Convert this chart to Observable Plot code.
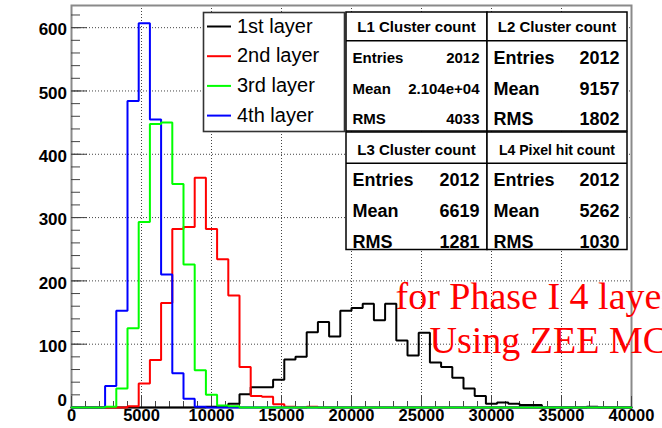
<!DOCTYPE html>
<html><head><meta charset="utf-8">
<script src="https://cdn.jsdelivr.net/npm/d3@7"></script>
<script src="https://cdn.jsdelivr.net/npm/@observablehq/plot@0.6"></script>
<style>
html,body{margin:0;padding:0;background:#fff;overflow:hidden;}
#chart svg{display:block;}
</style></head><body><div id="chart"></div>
<script>
// ---- data: 50 bins of width 800 from 0 to 40000 ----
const binWidth = 800;
const xMin = 0;
const layer1Counts = [0,0,0,0,0,0,0,0,0,0, 0,0,1,2,6,21,32,32,44,76, 80,119,135,112,153,157,164,138,164,106, 82,118,71,64,47,30,18,6,8,6, 4,4,0,0,0,0,1,0,0,0];
const layer2Counts = [0,0,0,0,0,2,38,75,165,282, 285,363,282,234,177,64,18,17,5,1, 0,1,0,0,0,0,0,0,0,0, 0,0,0,0,0,0,0,0,0,0, 0,0,0,0,0,0,0,0,0,0];
const layer3Counts = [0,0,0,1,30,125,293,448,450,353, 226,59,20,3,2,0,0,0,0,0, 0,0,0,0,0,0,0,0,0,0, 0,0,0,0,0,0,0,0,0,0, 0,0,0,0,0,0,0,0,0,0];
const layer4Counts = [0,0,0,34,153,484,607,455,210,54, 14,1,0,0,0,0,0,0,0,0, 0,0,0,0,0,0,0,0,0,0, 0,0,0,0,0,0,0,0,0,0, 0,0,0,0,0,0,0,0,0,0];

const seriesNames = ["1st layer", "2nd layer", "3rd layer", "4th layer"];
const seriesColors = ["#000000", "#ff0000", "#00ff00", "#0000ff"];

const statsTitles = ["L1 Cluster count", "L2 Cluster count", "L3 Cluster count", "L4 Pixel hit count"];
const statsEntries = ["2012", "2012", "2012", "2012"];
const statsMean = ["2.104e+04", "9157", "6619", "5262"];
const statsRMS = ["4033", "1802", "1281", "1030"];
const statsRowLabels = ["Entries", "Mean", "RMS"];

const xTickLabels = [0, 5000, 10000, 15000, 20000, 25000, 30000, 35000, 40000];
const yTickLabels = [0, 100, 200, 300, 400, 500, 600];
const annotationLines = ["for Phase I 4 layer", "Using ZEE MC"];

// ---- layout ----
const W = 662, H = 428, mL = 71, mR = 31, mT = 5, mB = 21;
const frameW = W - mL - mR, frameH = H - mT - mB;
const xMinor = d3.range(0, 40001, 1000);
const yMinor = d3.range(0, 636, 20);

function toSteps(counts) {
  const pts = counts.map((c, i) => ({x: xMin + i * binWidth, y: c}));
  pts.push({x: xMin + counts.length * binWidth, y: counts[counts.length - 1]});
  return pts;
}
const allCounts = [layer1Counts, layer2Counts, layer3Counts, layer4Counts];
const drawOrder = [0, 1, 3, 2];

const plot = Plot.plot({
  width: W, height: H,
  marginLeft: mL, marginRight: mR, marginTop: mT, marginBottom: mB,
  x: {domain: [0, 40000], axis: null},
  y: {domain: [0, 635], axis: null},
  style: {fontFamily: "'Liberation Sans', Arial, sans-serif", background: "white"},
  marks: [
    Plot.ruleX(xTickLabels.filter(v => v > 0 && v < 40000), {x: d => d, stroke: "#444", strokeDasharray: "1,2"}),
    Plot.ruleY(yTickLabels.filter(v => v > 0), {y: d => d, stroke: "#444", strokeDasharray: "1,2"}),
    Plot.frame({stroke: "#8a8a8a", strokeWidth: 2}),
    Plot.tickX(xMinor, {x: d => d, insetTop: frameH - 6, stroke: "#444"}),
    Plot.tickX(xTickLabels, {x: d => d, insetTop: frameH - 11, stroke: "#444"}),
    Plot.tickY(yMinor, {y: d => d, insetRight: frameW - 9, stroke: "#444"}),
    Plot.tickY(yTickLabels, {y: d => d, insetRight: frameW - 16, stroke: "#444"}),
    ...drawOrder.map(k => Plot.line(toSteps(allCounts[k]), {x: "x", y: "y", curve: "step-after", stroke: seriesColors[k], strokeWidth: 2, strokeLinejoin: "miter"})),
    Plot.text(yTickLabels.filter(v => v !== 0), {y: d => d, text: d => String(d), frameAnchor: "left", textAnchor: "end", dx: -4.5, dy: 2.2, fontSize: 17, fontWeight: "bold"}),
    Plot.text(yTickLabels.filter(v => v === 0), {y: d => d, text: d => String(d), frameAnchor: "left", textAnchor: "end", dx: -4.5, dy: -7.4, fontSize: 17, fontWeight: "bold"}),
    Plot.text(xTickLabels, {x: d => d, text: d => String(d), frameAnchor: "bottom", dy: 13.7, fontSize: 16.5, fontWeight: "bold"}),
    Plot.text([annotationLines[0]], {text: d => d, frameAnchor: "top-left", textAnchor: "start", dx: 324, dy: 277, fontSize: 38, fill: "#ff0000", fontFamily: "'Liberation Serif', 'Times New Roman', serif"}),
    Plot.text([annotationLines[1]], {text: d => d, frameAnchor: "top-left", textAnchor: "start", dx: 358, dy: 321, fontSize: 38, fill: "#ff0000", fontFamily: "'Liberation Serif', 'Times New Roman', serif"})
  ]
});
document.getElementById("chart").appendChild(plot);

const svg = d3.select(plot);
// ---- legend ----
const lg = svg.append("g").attr("font-family", "'Liberation Sans', Arial, sans-serif").attr("text-anchor", "start");
lg.append("rect").attr("x", 203.5).attr("y", 12.5).attr("width", 141).attr("height", 119)
  .attr("fill", "white").attr("stroke", "#333").attr("stroke-width", 1.6);
seriesNames.forEach((name, i) => {
  const cy = 26.5 + i * 29.7;
  lg.append("line").attr("x1", 207).attr("x2", 231).attr("y1", cy).attr("y2", cy)
    .attr("stroke", seriesColors[i]).attr("stroke-width", 2);
  lg.append("text").attr("x", 237).attr("y", cy + 6).attr("font-size", 20).attr("fill", "black")
    .attr("text-anchor", "start").text(name);
});

// ---- stats boxes ----
const boxes = [
  {x0: 346, x1: 487, y0: 12, y1: 131, hy: 40.7, tc: 26.2, rows: [57.2, 88.5, 118.3], ts: 15, rs: 15},
  {x0: 487, x1: 627, y0: 12, y1: 131, hy: 40.7, tc: 26.2, rows: [57.2, 88.5, 118.3], ts: 15, rs: 18},
  {x0: 346, x1: 487, y0: 132, y1: 249.5, hy: 163.3, tc: 150, rows: [180, 210.7, 241.3], ts: 15, rs: 18},
  {x0: 487, x1: 627, y0: 132, y1: 249.5, hy: 163.3, tc: 150, rows: [180, 210.7, 241.3], ts: 14, rs: 18}
];
const sg = svg.append("g").attr("font-family", "'Liberation Sans', Arial, sans-serif").attr("font-weight", "bold").attr("fill", "black");
boxes.forEach((b, i) => {
  sg.append("rect").attr("x", b.x0).attr("y", b.y0).attr("width", b.x1 - b.x0).attr("height", b.y1 - b.y0)
    .attr("fill", "white").attr("stroke", "black").attr("stroke-width", 1.5);
  sg.append("line").attr("x1", b.x0).attr("x2", b.x1).attr("y1", b.hy).attr("y2", b.hy)
    .attr("stroke", "black").attr("stroke-width", 1.5);
  sg.append("text").attr("x", (b.x0 + b.x1) / 2).attr("y", b.tc + 0.358 * b.ts).attr("text-anchor", "middle")
    .attr("font-size", b.ts).text(statsTitles[i]);
  const vals = [statsEntries[i], statsMean[i], statsRMS[i]];
  statsRowLabels.forEach((lab, r) => {
    const by = b.rows[r] + 0.358 * b.rs;
    sg.append("text").attr("x", b.x0 + 6.5).attr("y", by).attr("text-anchor", "start").attr("font-size", b.rs).text(lab);
    sg.append("text").attr("x", b.x1 - 7.5).attr("y", by).attr("text-anchor", "end").attr("font-size", b.rs).text(vals[r]);
  });
});
</script></body></html>
